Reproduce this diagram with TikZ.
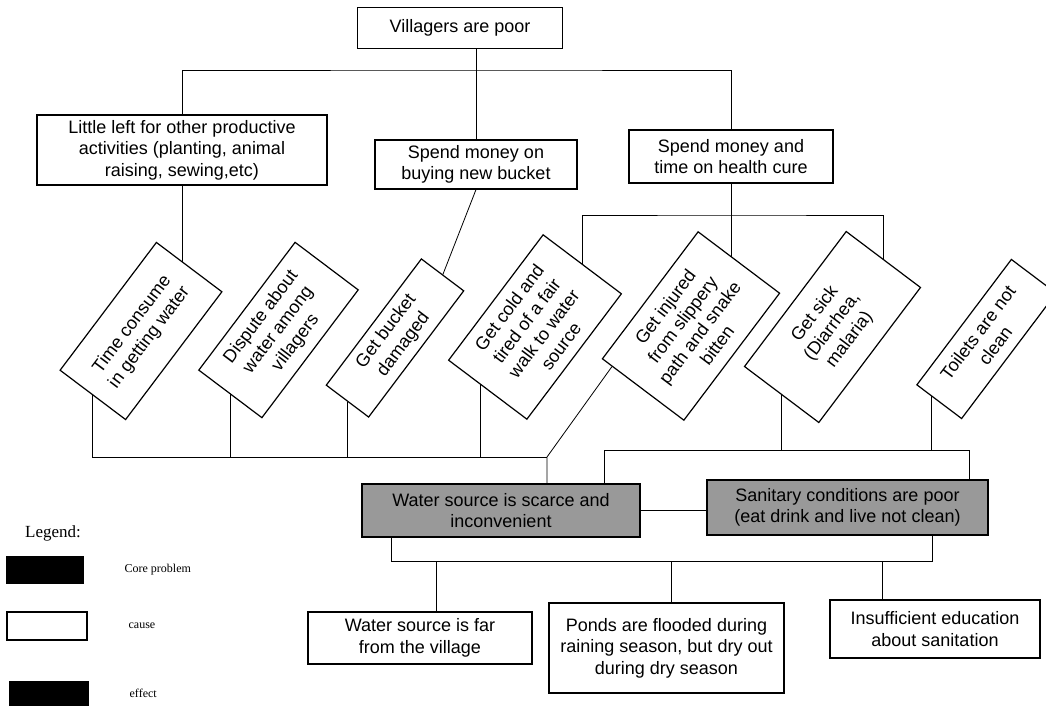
\documentclass[tikz,border=0pt]{standalone}
\usepackage{fontspec}
\setmainfont{Liberation Sans}
\newfontfamily\legendfont{Liberation Serif}
\usetikzlibrary{positioning,calc,backgrounds}

\tikzset{
    box/.style={draw, line width=0.6pt, fill=white, align=center, inner sep=1pt},
    tilted/.style={box, rotate=53},
    corebox/.style={box, fill=black!40},
    keybox/.style={draw, line width=0.6pt, minimum width=#1, inner sep=0pt},
    link/.style={line width=0.6pt}
}

\begin{document}
\begin{tikzpicture}[x=0.5pt, y=-0.5pt, font=\fontsize{9}{10.8}\selectfont]
    \useasboundingbox (0,0) rectangle (1046,706);

    % top level
    \node[box, minimum width=102.5pt, minimum height=20.5pt] (poor) at (460,28) {Villagers are poor};
    \node[box, minimum width=145pt, minimum height=35pt] (little) at (182,150)
        {Little left for other productive\\activities (planting, animal\\raising, sewing,etc)};
    \node[box, minimum width=101pt, minimum height=24.5pt] (buying) at (476,164.5)
        {Spend money on\\buying new bucket};
    \node[box, minimum width=102pt, minimum height=26.5pt] (health) at (731,156.5)
        {Spend money and\\time on health cure};

    % tilted effects
    \node[tilted, minimum width=80pt, minimum height=41pt] (time) at (141,331) {Time consume\\in getting water};
    \node[tilted, minimum width=80pt, minimum height=39.5pt] (dispute) at (278.5,330) {Dispute about\\water among\\villagers};
    \node[tilted, minimum width=79pt, minimum height=26.5pt] (bucket) at (395,338) {Get bucket\\damaged};
    \node[tilted, minimum width=78.5pt, minimum height=49pt] (cold) at (535,327)
        {Get cold and\\tired of a fair\\walk to water\\source};
    \node[tilted, minimum width=79.5pt, minimum height=51pt] (injured) at (691,326)
        {Get  injured\\from slippery\\path and snake\\bitten};
    \node[tilted, minimum width=84.5pt, minimum height=46.5pt] (sick) at (832.5,327) {Get sick\\(Diarrhea,\\malaria)};
    \node[tilted, minimum width=78.5pt, minimum height=28pt] (toilets) at (986.5,339) {Toilets are not\\clean};

    % core problems
    \node[corebox, minimum width=139pt, minimum height=26.5pt] (water) at (501,510.5)
        {Water source is scarce and\\inconvenient};
    \node[corebox, minimum width=140.5pt, minimum height=27.5pt] (sanitary) at (847.5,507.5)
        {Sanitary conditions are poor\\(eat drink and live not clean)};

    % causes
    \node[box, minimum width=112pt, minimum height=26pt] (far) at (420,638) {Water source is far\\from the village};
    \node[box, minimum width=117.5pt, minimum height=45pt] (ponds) at (666.5,648)
        {Ponds are flooded during\\raining season, but dry out\\during dry season};
    \node[box, minimum width=105pt, minimum height=29pt] (insuff) at (935,629)
        {Insufficient education\\about sanitation};

    % legend
    \node[font=\legendfont\fontsize{8.5}{10}\selectfont] (legend) at (53,533) {Legend:};
    \node[keybox=38pt, minimum height=13pt, fill=black] (keycore) at (45,570) {};
    \node[keybox=40pt, minimum height=14pt, fill=white] (keycause) at (47,626) {};
    \node[keybox=39pt, minimum height=11.5pt, fill=black] (keyeffect) at (49,693.5) {};
    \foreach \k/\t in {keycore/Core problem, keycause/cause, keyeffect/effect}
        \node[font=\legendfont\fontsize{6}{7}\selectfont, right=17pt of \k] (\k text) {\t};

    \coordinate (topbar) at (476,70);
    \coordinate (hbar) at (731,215);
    \coordinate (wjoin) at (547,457);
    \coordinate (sbar) at (604,450);
    \coordinate (sbarend) at (969,450);
    \coordinate (bbar) at (391,561);
    \coordinate (bbarend) at (932,561);
    \coordinate (farjoin) at (436,561);
    \coordinate (pondsjoin) at (671,561);
    \coordinate (insuffjoin) at (882,561);
    \coordinate (coldfoot) at ($(cold.west)!0.17!(cold.north west)$);
    \coordinate (injfoot) at ($(injured.north west)!0.25!(injured.west)$);
    \coordinate (toiletfoot) at ($(toilets.west)!0.35!(toilets.north west)$);

    \begin{scope}[on background layer, link]
        \draw (poor.south -| buying.north) -- (buying.north);
        \draw (little.north) |- (topbar) -| (health.north);
        \draw (little.south) -- (little.south |- time.east);
        \draw (buying.south) -- (bucket.east);
        \draw (health.south) -- (health.south |- injured.east);
        \draw (cold.east) |- (hbar) -| (sick.east);

        \draw (time.west) |- (wjoin);
        \foreach \n in {dispute.west, bucket.west, coldfoot}
            \draw (\n) -- (\n |- wjoin);
        \draw (injfoot) -- (wjoin) -- (wjoin |- water.north);

        \foreach \n in {sick.west, toiletfoot}
            \draw (\n) -- (\n |- sbar);
        \draw (sbar |- water.north) -- (sbar) -- (sbarend) -- (sbarend |- sanitary.north);
        \draw (water.east) -- (water.east -| sanitary.west);

        \draw (bbar |- water.south) -- (bbar) -- (bbarend) -- (bbarend |- sanitary.south);
        \foreach \j/\b in {farjoin/far, pondsjoin/ponds, insuffjoin/insuff}
            \draw (\j) -- (\j |- \b.north);
    \end{scope}
\end{tikzpicture}
\end{document}
